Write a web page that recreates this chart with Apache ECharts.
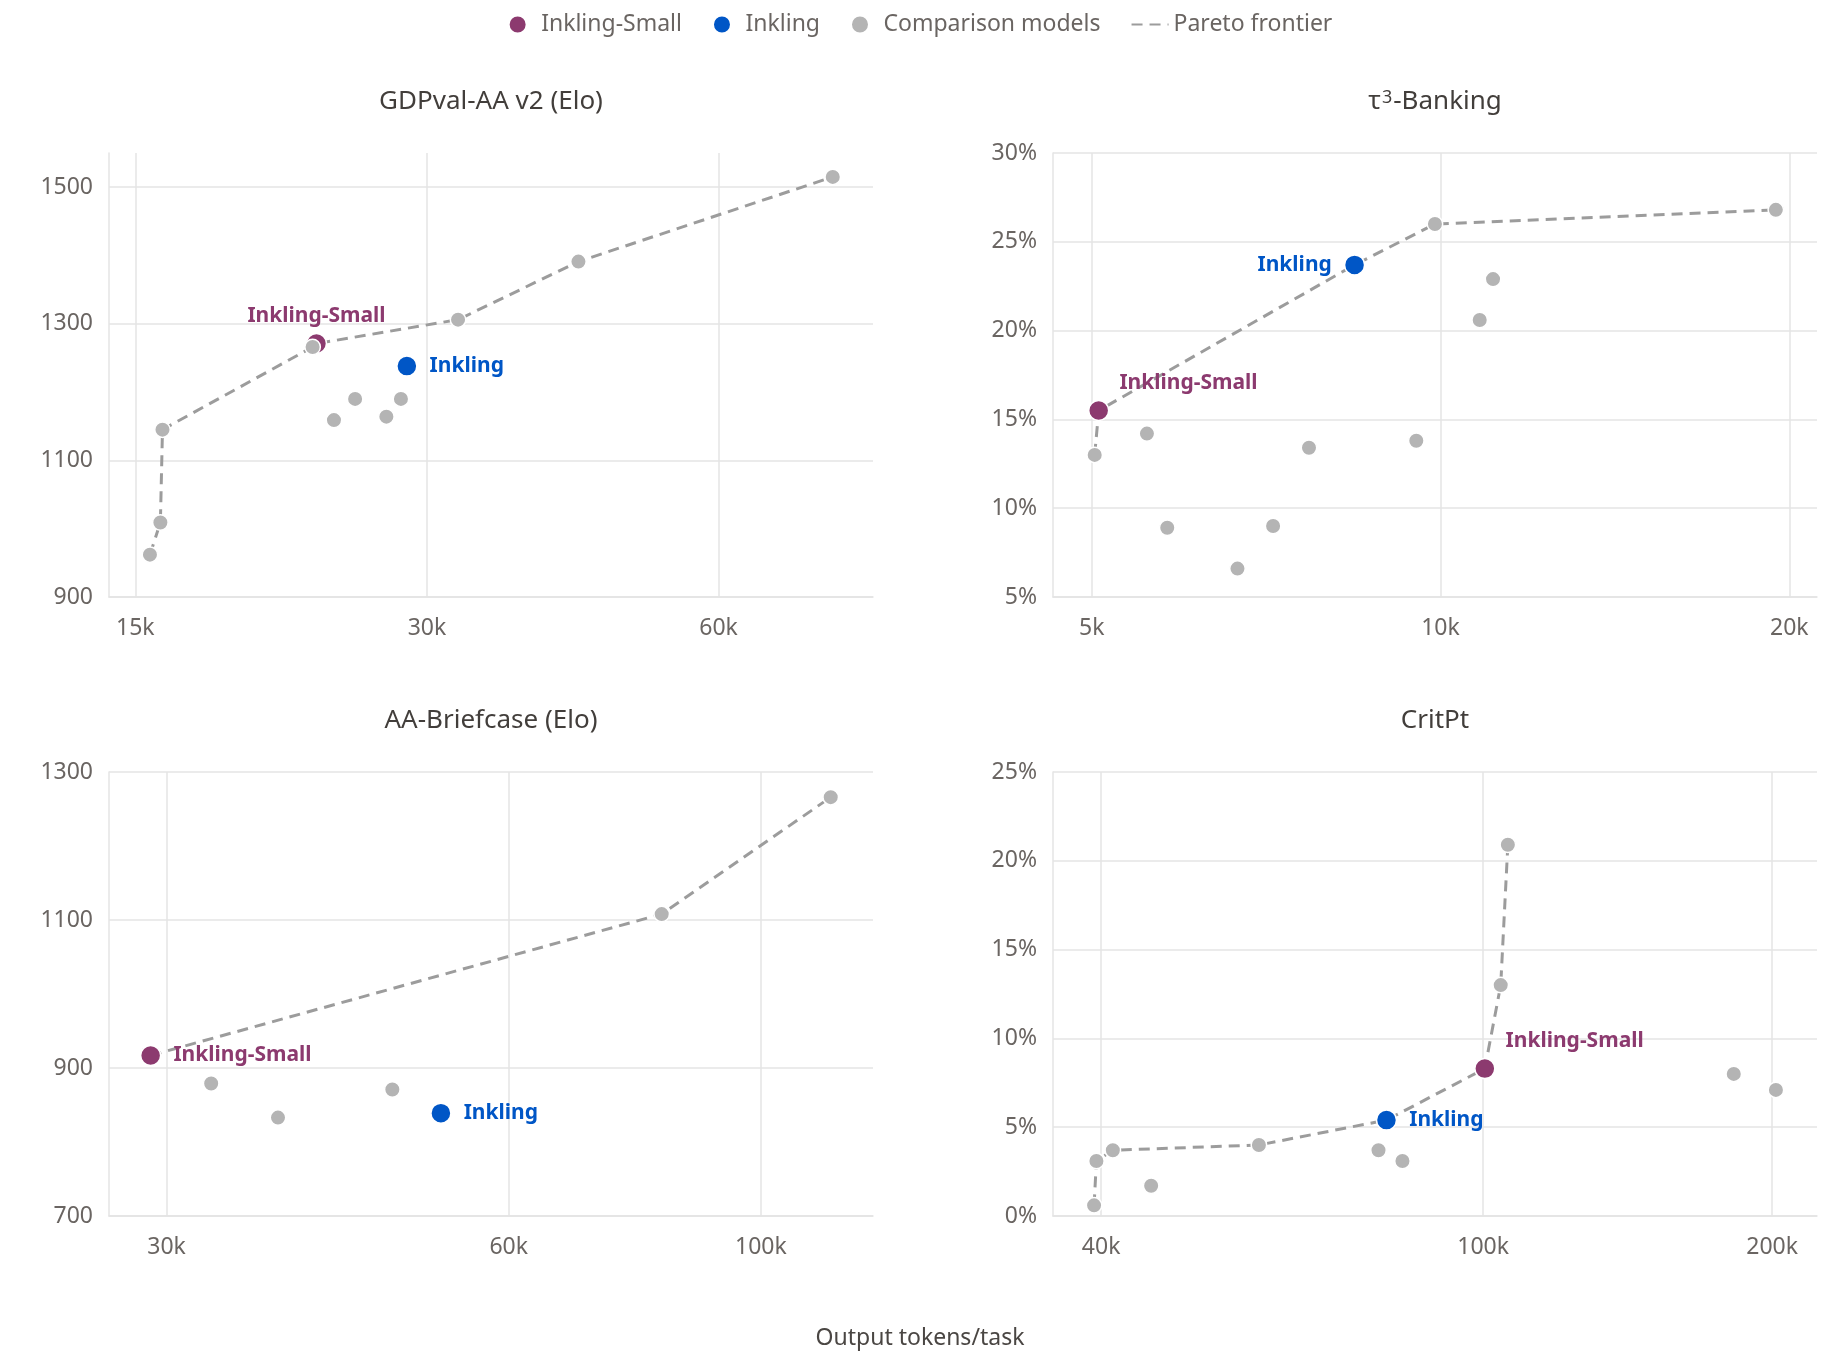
<!DOCTYPE html>
<html>
<head>
<meta charset="utf-8">
<title>Output tokens vs score</title>
<script src="https://cdn.jsdelivr.net/npm/echarts@6/dist/echarts.min.js"></script>
<style>
  html, body { margin: 0; padding: 0; background: #fff; }
  #chart { width: 1840px; height: 1354px; }
</style>
</head>
<body>
<div id="chart"></div>
<script>
// panel titles
var panelTitles = ['GDPval-AA v2 (Elo)', '{t|τ}{sup|3}{t|-Banking}', 'AA-Briefcase (Elo)', 'CritPt'];

// GDPval-AA v2: [output tokens, Elo]
var gdpvalOthers = [[15530, 962], [15920, 1009], [16000, 1145], [22860, 1266], [24050, 1159],
    [25290, 1190], [27240, 1164], [28200, 1190], [32300, 1306], [43000, 1391], [78700, 1515]];
var gdpvalInklingSmall = [23070, 1271];
var gdpvalInkling = [28600, 1238];
var gdpvalFrontier = [[15530, 962], [15920, 1009], [16000, 1145], [22860, 1266], [23070, 1271],
    [32300, 1306], [43000, 1391], [78700, 1515]];

// tau3-Banking: [output tokens, %]
var bankingOthers = [[5030, 13.0], [5580, 14.2], [5810, 8.9], [6680, 6.6], [7170, 9.0], [7700, 13.4],
    [9530, 13.8], [9890, 26.0], [10810, 20.6], [11100, 22.9], [19470, 26.8]];
var bankingInklingSmall = [5070, 15.5];
var bankingInkling = [8430, 23.7];
var bankingFrontier = [[5030, 13.0], [5070, 15.5], [8430, 23.7], [9890, 26.0], [19470, 26.8]];

// AA-Briefcase: [output tokens, Elo]
var briefcaseOthers = [[32840, 879], [37600, 833], [47400, 871], [81800, 1108], [115200, 1266]];
var briefcaseInklingSmall = [29050, 917];
var briefcaseInkling = [52300, 839];
var briefcaseFrontier = [[29050, 917], [81800, 1108], [115200, 1266]];

// CritPt: [output tokens, %]
var critptOthers = [[39330, 0.6], [39550, 3.1], [41140, 3.7], [45100, 1.7], [58400, 4.0], [77800, 3.7],
    [82400, 3.1], [104300, 13.0], [106100, 20.9], [182400, 8.0], [201800, 7.1]];
var critptInklingSmall = [100400, 8.3];
var critptInkling = [79300, 5.4];
var critptFrontier = [[39330, 0.6], [39550, 3.1], [41140, 3.7], [58400, 4.0], [79300, 5.4],
    [100400, 8.3], [104300, 13.0], [106100, 20.9]];

// axis ticks
var xTicks = [[15000, 30000, 60000], [5000, 10000, 20000], [30000, 60000, 100000], [40000, 100000, 200000]];
var yTicks = [[900, 1100, 1300, 1500], [5, 10, 15, 20, 25, 30], [700, 900, 1100, 1300], [0, 5, 10, 15, 20, 25]];

var chartDom = document.getElementById('chart');
var myChart = echarts.init(chartDom);
var option;

var FONT = 'Noto Sans';
var PURPLE = '#8c3a6f';
var BLUE = '#0056c6';
var GRAY = '#b4b4b4';
var GRID = '#e4e4e4';
var LABEL = '#6a6562';
var DASH = '#9c9c9c';

var panels = [
    { others: gdpvalOthers, small: gdpvalInklingSmall, ink: gdpvalInkling, frontier: gdpvalFrontier,
      xMin: 14090, xMax: 86600, yMin: 900, yMax: 1550, pct: false,
      smallLabel: { position: 'top', distance: 6 },
      inkLabel: { position: 'right', distance: 12 } },
    { others: bankingOthers, small: bankingInklingSmall, ink: bankingInkling, frontier: bankingFrontier,
      xMin: 4630, xMax: 21130, yMin: 5, yMax: 30, pct: true,
      smallLabel: { position: 'right', distance: 10, offset: [0, -28] },
      inkLabel: { position: 'left', distance: 12 } },
    { others: briefcaseOthers, small: briefcaseInklingSmall, ink: briefcaseInkling, frontier: briefcaseFrontier,
      xMin: 26700, xMax: 125500, yMin: 700, yMax: 1300, pct: false,
      smallLabel: { position: 'right', distance: 12 },
      inkLabel: { position: 'right', distance: 12 } },
    { others: critptOthers, small: critptInklingSmall, ink: critptInkling, frontier: critptFrontier,
      xMin: 35640, xMax: 222700, yMin: 0, yMax: 25, pct: true,
      smallLabel: { position: 'right', distance: 10, offset: [0, -28] },
      inkLabel: { position: 'right', distance: 12 } }
];

var grids = [
    { left: 109, top: 153, width: 764, height: 444 },
    { left: 1053, top: 153, width: 764, height: 444 },
    { left: 109, top: 772, width: 764, height: 444 },
    { left: 1053, top: 772, width: 764, height: 444 }
];

var titles = [];
var xAxes = [];
var yAxes = [];
var series = [];

panels.forEach(function (p, i) {
    var g = grids[i];
    titles.push({
        text: panelTitles[i],
        left: g.left + g.width / 2,
        top: g.top - 64,
        textAlign: 'center',
        padding: 0,
        textStyle: {
            fontFamily: FONT, fontSize: 26, fontWeight: 'normal', color: '#423e3b',
            rich: {
                t: { fontFamily: FONT, fontSize: 26, color: '#423e3b' },
                sup: { fontFamily: FONT, fontSize: 18, color: '#423e3b', verticalAlign: 'top',
                       lineHeight: 18, padding: [0, 1, 8, 1] }
            }
        }
    });
    xAxes.push({
        type: 'log',
        logBase: 10,
        gridIndex: i,
        min: p.xMin,
        max: p.xMax,
        axisLine: { show: true, lineStyle: { color: GRID, width: 1.5 } },
        axisTick: { show: false, customValues: xTicks[i] },
        axisLabel: {
            customValues: xTicks[i],
            margin: 20,
            fontFamily: FONT, fontSize: 23, color: LABEL,
            formatter: function (v) { return (v / 1000) + 'k'; }
        },
        splitLine: { show: true, lineStyle: { color: GRID, width: 1.5 } }
    });
    yAxes.push({
        type: 'value',
        gridIndex: i,
        min: p.yMin,
        max: p.yMax,
        axisLine: { show: true, lineStyle: { color: GRID, width: 1.5 } },
        axisTick: { show: false, customValues: yTicks[i] },
        axisLabel: {
            customValues: yTicks[i],
            margin: 16,
            fontFamily: FONT, fontSize: 23, color: LABEL,
            formatter: p.pct ? function (v) { return v + '%'; } : function (v) { return String(v); }
        },
        splitLine: { show: true, lineStyle: { color: GRID, width: 1.5 } }
    });
    series.push({
        name: 'Pareto frontier',
        type: 'line',
        xAxisIndex: i,
        yAxisIndex: i,
        data: p.frontier,
        symbol: 'none',
        z: 1,
        lineStyle: { color: DASH, width: 3, type: [11, 7] },
        itemStyle: { color: DASH }
    });
    series.push({
        name: 'Inkling-Small',
        type: 'scatter',
        xAxisIndex: i,
        yAxisIndex: i,
        data: [p.small],
        symbolSize: 20,
        z: 2,
        itemStyle: { color: PURPLE, borderColor: '#fff', borderWidth: 1.5, opacity: 1 },
        label: Object.assign({
            show: true,
            formatter: 'Inkling-Small',
            fontFamily: FONT, fontSize: 21, fontWeight: 'bold', color: PURPLE
        }, p.smallLabel)
    });
    series.push({
        name: 'Inkling',
        type: 'scatter',
        xAxisIndex: i,
        yAxisIndex: i,
        data: [p.ink],
        symbolSize: 20,
        z: 2,
        itemStyle: { color: BLUE, borderColor: '#fff', borderWidth: 1.5, opacity: 1 },
        label: Object.assign({
            show: true,
            formatter: 'Inkling',
            fontFamily: FONT, fontSize: 21, fontWeight: 'bold', color: BLUE
        }, p.inkLabel)
    });
    series.push({
        name: 'Comparison models',
        type: 'scatter',
        xAxisIndex: i,
        yAxisIndex: i,
        data: p.others,
        symbolSize: 15.5,
        z: 3,
        itemStyle: { color: GRAY, borderColor: '#fff', borderWidth: 1.5, opacity: 1 }
    });
});

titles.push({
    text: 'Output tokens/task',
    left: 920,
    top: 1327,
    textAlign: 'center',
    padding: 0,
    textStyle: { fontFamily: FONT, fontSize: 23, fontWeight: 'normal', color: '#4a4643' }
});

option = {
    backgroundColor: '#fff',
    animation: false,
    title: titles,
    legend: {
        top: 8,
        left: 'center',
        itemWidth: 37,
        itemHeight: 18,
        itemGap: 30,
        textStyle: { fontFamily: FONT, fontSize: 23, color: LABEL },
        data: [
            'Inkling-Small',
            'Inkling',
            'Comparison models',
            { name: 'Pareto frontier', itemStyle: { opacity: 0 } }
        ]
    },
    grid: grids,
    xAxis: xAxes,
    yAxis: yAxes,
    series: series
};

option && myChart.setOption(option);
</script>
</body>
</html>
